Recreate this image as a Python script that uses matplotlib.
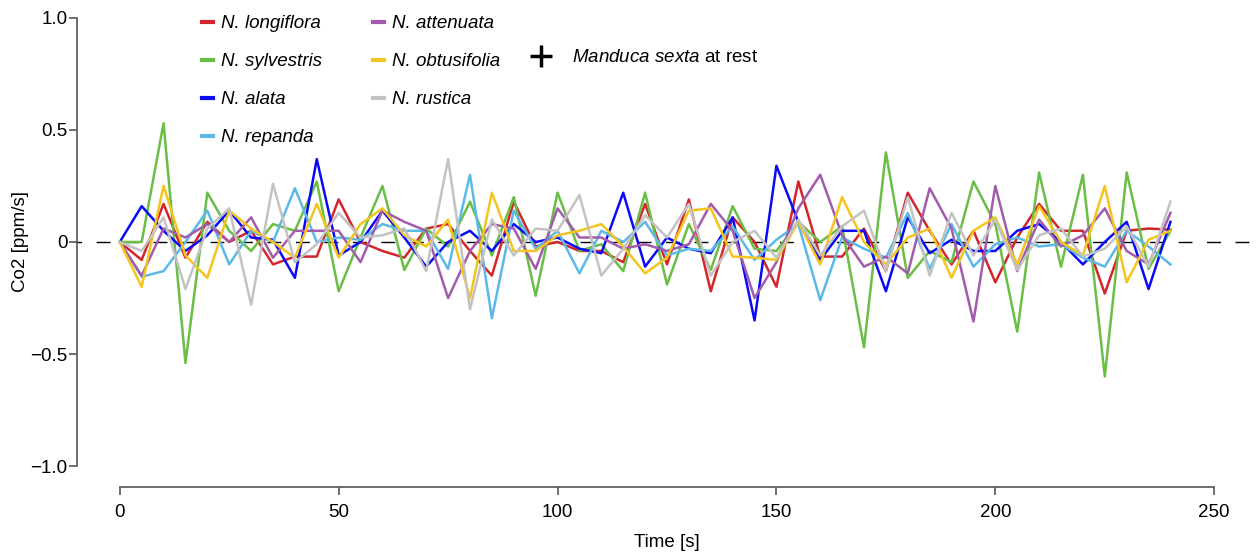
# CO2 release traces of Manduca sexta at rest, one line per Nicotiana species
import numpy as np
import matplotlib
matplotlib.use('Agg')
import matplotlib.pyplot as plt
from matplotlib.lines import Line2D

plt.rcParams['font.family'] = ['Liberation Sans', 'DejaVu Sans']
plt.rcParams['mathtext.fontset'] = 'custom'
plt.rcParams['mathtext.it'] = 'Liberation Sans:italic'
plt.rcParams['mathtext.rm'] = 'Liberation Sans'

time = np.arange(0, 241, 5)

longiflora = [0, -0.08, 0.17, -0.07, 0.09, 0, 0.05, -0.1, -0.065, -0.065,
              0.19, 0, -0.04, -0.07, 0.06, 0.08, -0.04, -0.15, 0.18, -0.02,
              0, -0.04, -0.04, -0.09, 0.17, -0.1, 0.19, -0.22, 0.11, 0,
              -0.2, 0.27, -0.065, -0.065, 0.06, -0.13, 0.22, 0.05, -0.1, 0.05,
              -0.18, 0.02, 0.17, 0.05, 0.05, -0.23, 0.05, 0.06, 0.055]
sylvestris = [0, 0, 0.53, -0.54, 0.22, 0.05, -0.04, 0.08, 0.05, 0.27,
              -0.22, 0.02, 0.25, -0.125, 0.06, -0.02, 0.18, -0.06, 0.2, -0.24,
              0.22, -0.04, -0.01, -0.13, 0.22, -0.19, 0.08, -0.125, 0.16, -0.03,
              -0.04, 0.09, 0, 0.07, -0.47, 0.4, -0.16, -0.04, -0.09, 0.27,
              0.08, -0.4, 0.31, -0.11, 0.3, -0.6, 0.31, -0.12, 0.05]
alata = [0, 0.16, 0.05, -0.04, 0.03, 0.14, 0.02, 0.01, -0.16, 0.37,
         -0.06, 0, 0.14, 0.02, -0.11, 0, 0.05, -0.04, 0.08, 0,
         0.02, -0.03, -0.05, 0.22, -0.11, 0.02, -0.03, -0.05, 0.11, -0.35,
         0.34, 0.09, -0.08, 0.05, 0.05, -0.22, 0.11, -0.05, 0.01, -0.04,
         -0.04, 0.05, 0.08, 0, -0.1, 0, 0.09, -0.21, 0.09]
repanda = [0, -0.155, -0.13, 0, 0.14, -0.1, 0.05, 0, 0.24, 0,
           0.02, 0.01, 0.08, 0.05, 0.05, -0.12, 0.3, -0.34, 0.14, -0.03,
           0.05, -0.14, 0.05, 0, 0.09, -0.06, -0.03, -0.04, 0.07, -0.08,
           0.01, 0.08, -0.26, 0.02, -0.03, -0.07, 0.13, -0.12, 0.08, -0.11,
           -0.01, 0.02, -0.02, -0.01, -0.07, -0.11, 0.05, -0.02, -0.1]
attenuata = [0, -0.15, 0.06, 0.02, 0.08, 0, 0.11, -0.07, 0.05, 0.05,
             0.05, -0.09, 0.14, 0.09, 0.05, -0.25, -0.04, 0.08, 0.06, -0.12,
             0.15, 0.02, 0.02, -0.03, -0.01, -0.04, -0.01, 0.17, 0.05, -0.25,
             -0.09, 0.15, 0.3, 0.03, -0.11, -0.065, -0.14, 0.24, 0.06, -0.355,
             0.25, -0.13, 0.1, -0.02, 0.03, 0.15, -0.04, -0.1, 0.13]
obtusifolia = [0, -0.2, 0.25, -0.06, -0.16, 0.14, 0.06, 0, -0.07, 0.17,
               -0.07, 0.08, 0.15, 0.03, -0.02, 0.1, -0.25, 0.22, -0.04, -0.04,
               0.03, 0.05, 0.08, -0.02, -0.14, -0.07, 0.14, 0.15, -0.065, -0.07,
               -0.08, 0.09, -0.1, 0.2, 0, -0.1, 0.02, 0.06, -0.16, 0.05,
               0.11, -0.1, 0.16, 0, -0.06, 0.25, -0.18, 0.01, 0.05]
rustica = [0, -0.04, 0.11, -0.21, 0.06, 0.15, -0.28, 0.26, -0.09, -0.01,
           0.13, 0.02, 0.03, 0.06, -0.13, 0.37, -0.3, 0.1, -0.06, 0.06,
           0.05, 0.21, -0.15, -0.03, 0.12, 0.02, 0.17, -0.15, 0, 0.05,
           -0.07, 0.1, -0.06, 0.07, 0.14, -0.13, 0.2, -0.15, 0.13, -0.06,
           0.1, -0.125, 0.03, 0.06, -0.065, -0.03, 0.07, -0.11, 0.18]

species = ['N. longiflora', 'N. sylvestris', 'N. alata', 'N. repanda',
           'N. attenuata', 'N. obtusifolia', 'N. rustica']
series = [longiflora, sylvestris, alata, repanda, attenuata, obtusifolia, rustica]
colors = ['#D3262C', '#6ABE45', '#0A0AF8', '#5BB9E8', '#A15CAB', '#F4C41F', '#C3C3C3']

FS = 13.5
axis_col = '#555555'

fig = plt.figure(figsize=(12.59, 5.54), dpi=100)
ax = fig.add_axes([76/1259, 1 - 484/554, 1182/1259, 484/554])

ax.axhline(0, color='black', lw=1, ls=(6, (10, 10.5)), zorder=1)
for name, vals, col in zip(species, series, colors):
    ax.plot(time, vals, color=col, lw=1.8, label=name, zorder=2)

ax.set_xlim(-10, 260)
ax.set_ylim(-1.08, 1.08)
for s in ['top', 'right']:
    ax.spines[s].set_visible(False)
ax.spines['left'].set_bounds(-1, 1)
ax.spines['bottom'].set_bounds(0, 250)
ax.spines['left'].set_position(('axes', 1 / 1182))
ax.spines['bottom'].set_position(('outward', 2.2))
for s in ['left', 'bottom']:
    ax.spines[s].set_color(axis_col)
    ax.spines[s].set_linewidth(1.2)

ax.set_xticks([0, 50, 100, 150, 200, 250])
ax.set_yticks([-1, -0.5, 0, 0.5, 1])
ax.set_yticklabels(['\u22121.0', '\u22120.5', '0', '0.5', '1.0'])
ax.tick_params(axis='both', length=6, width=1.2, color=axis_col, labelsize=FS)
ax.tick_params(axis='x', pad=6)
ax.tick_params(axis='y', pad=1)

ax.set_xlabel('Time [s]', fontsize=FS)
ax.set_ylabel('Co2 [ppm/s]', fontsize=FS)
ax.xaxis.set_label_coords(0.5, -(534 - 484) / 484)
ax.yaxis.set_label_coords(-0.040, 0.5)

leg = ax.legend(loc='upper left', bbox_to_anchor=((202 - 76) / 1182, 1 - 15 / 484),
                ncol=2, frameon=False, handlelength=0.6, handletextpad=0.43,
                labelspacing=1.12, columnspacing=2.7, borderpad=0, borderaxespad=0,
                prop={'style': 'italic', 'size': FS})
for h in leg.get_lines():
    h.set_linewidth(3)
ax.add_artist(leg)

rest = Line2D([], [], color='black', marker='+', ls='none', ms=16, mew=2.5)
ax.legend([rest], [r'$\mathit{Manduca\ sexta}$ at rest'], loc='upper left',
          bbox_to_anchor=((531 - 76) / 1182, 1 - 49 / 484), frameon=False,
          handlelength=1.1, handletextpad=1.09, borderpad=0, borderaxespad=0,
          prop={'size': FS})

fig.savefig('out.png', dpi=100)
